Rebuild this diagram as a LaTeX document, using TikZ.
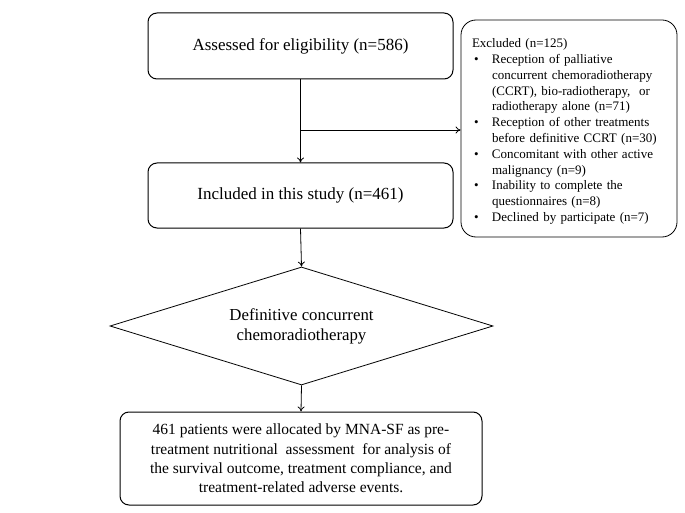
\documentclass[tikz,border=0pt]{standalone}
\usepackage{fontspec}
\setmainfont{Liberation Serif}
\usetikzlibrary{shapes.geometric,arrows.meta}
\begin{document}
\begin{tikzpicture}[x=1pt,y=-1pt,
  box/.style={draw,rounded corners=9pt,line width=1pt,align=center,inner sep=2pt,font=\fontsize{15.5}{19.3}\selectfont},
  big/.style={font=\fontsize{17}{20}\selectfont},
  arr/.style={-{To[length=5pt,width=7pt]},line width=0.8pt}]
\useasboundingbox (0,0) rectangle (685,513);
\node[box,big,minimum width=305pt,minimum height=66pt] (a) at (300.5,46) {Assessed for eligibility (n=586)};
\node[box,big,minimum width=305pt,minimum height=65pt] (b) at (300.5,195.5) {Included in this study (n=461)};
\node[draw,rounded corners=15pt,line width=0.8pt,text width=194pt,inner xsep=11pt,inner ysep=0pt,minimum height=217pt,align=left,
  font=\fontsize{13}{15.8}\selectfont] (e) at (569,128.5) {%
  \raisebox{-3pt}[\height][\depth]{%
  \begin{tabular}{@{}l@{}l@{}}
  \multicolumn{2}{@{}l@{}}{Excluded (n=125)}\\
  \makebox[20pt][l]{\hspace{2pt}•} & Reception of palliative\\
  & concurrent chemoradiotherapy\\
  & (CCRT), bio-radiotherapy,\ \ or\\
  & radiotherapy alone (n=71)\\
  \makebox[20pt][l]{\hspace{2pt}•} & Reception of other treatments\\
  & before definitive CCRT (n=30)\\
  \makebox[20pt][l]{\hspace{2pt}•} & Concomitant with other active\\
  & malignancy (n=9)\\
  \makebox[20pt][l]{\hspace{2pt}•} & Inability to complete the\\
  & questionnaires (n=8)\\
  \makebox[20pt][l]{\hspace{2pt}•} & Declined by participate (n=7)
  \end{tabular}}};
\node[draw,diamond,aspect=3.25,line width=0.8pt,minimum width=383pt,minimum height=118pt,inner sep=0pt,align=center,
  font=\fontsize{16.8}{20}\selectfont] (d) at (301.5,326) {Definitive concurrent\\chemoradiotherapy};
\node[box,minimum width=362pt,minimum height=93pt] (f) at (301,458.5) {461 patients were allocated by MNA-SF as pre-\\treatment nutritional\ \ assessment\ \ for analysis of\\the survival outcome, treatment compliance, and\\treatment-related adverse events.};
\coordinate (j) at (a.south |- 0,130);
\draw[arr] (a.south) -- (b.north);
\draw[arr] (j) -- (e.west |- j);
\draw[arr] (b.south) -- (d.north);
\draw[arr] (d.south) -- (f.north);
\end{tikzpicture}
\end{document}
